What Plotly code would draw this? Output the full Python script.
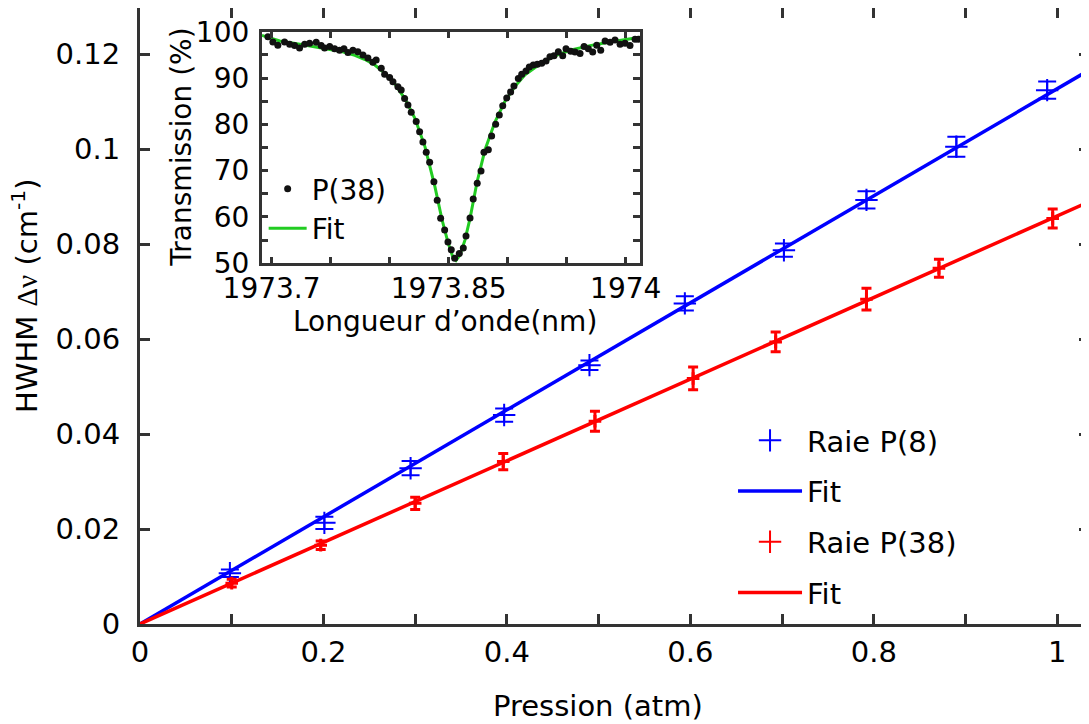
import plotly.graph_objects as go

# ---- Main data: HWHM vs pressure ----
p8_x = [0.098, 0.201, 0.295, 0.397, 0.490, 0.594, 0.702, 0.792, 0.890, 0.989]
p8_y = [0.0107, 0.0213, 0.0328, 0.0440, 0.0545, 0.0675, 0.0787, 0.0893, 0.1005, 0.1124]
p8_err = [0.0008, 0.0013, 0.0015, 0.0014, 0.0010, 0.0015, 0.0014, 0.0018, 0.0021, 0.0018]

p38_x = [0.100, 0.197, 0.300, 0.396, 0.496, 0.603, 0.693, 0.792, 0.871, 0.995]
p38_y = [0.0086, 0.0166, 0.0254, 0.0342, 0.0427, 0.0517, 0.0594, 0.0684, 0.0749, 0.0854]
p38_err = [0.0008, 0.0009, 0.0013, 0.0017, 0.0021, 0.0024, 0.0021, 0.0023, 0.0019, 0.0020]

fit_x = [0.0, 1.0346]
fit_p8 = [0.0, 0.1166]
fit_p38 = [0.0, 0.0889]

x_tickvals = [0.0, 0.1, 0.2, 0.3, 0.4, 0.5, 0.6, 0.7, 0.8, 0.9, 1.0]
x_ticktext = ["0", "", "0.2", "", "0.4", "", "0.6", "", "0.8", "", "1"]
y_tickvals = [0.0, 0.02, 0.04, 0.06, 0.08, 0.10, 0.12]
y_ticktext = ["0", "0.02", "0.04", "0.06", "0.08", "0.1", "0.12"]

# ---- Inset data: transmission spectrum of P(38) ----
wl = [1973.6969, 1973.7011, 1973.7053, 1973.7110, 1973.7153, 1973.7195, 1973.7237,
      1973.7280, 1973.7322, 1973.7378, 1973.7420, 1973.7449, 1973.7492, 1973.7534,
      1973.7576, 1973.7613, 1973.7647, 1973.7689, 1973.7731, 1973.7774, 1973.7816,
      1973.7858, 1973.7886, 1973.7929, 1973.7958, 1973.8000, 1973.8028, 1973.8070,
      1973.8098, 1973.8127, 1973.8155, 1973.8183, 1973.8225, 1973.8254, 1973.8282,
      1973.8310, 1973.8339, 1973.8375, 1973.8403, 1973.8432, 1973.8466, 1973.8494,
      1973.8522, 1973.8551, 1973.8590, 1973.8624, 1973.8647, 1973.8681, 1973.8708,
      1973.8742, 1973.8774, 1973.8799, 1973.8836, 1973.8864, 1973.8898, 1973.8929,
      1973.8958, 1973.8992, 1973.9025, 1973.9053, 1973.9090, 1973.9119, 1973.9155,
      1973.9183, 1973.9217, 1973.9251, 1973.9288, 1973.9325, 1973.9358, 1973.9392,
      1973.9429, 1973.9466, 1973.9494, 1973.9534, 1973.9570, 1973.9613, 1973.9647,
      1973.9683, 1973.9720, 1973.9754, 1973.9788, 1973.9825, 1973.9867, 1973.9909,
      1973.9952, 1973.9994, 1974.0036, 1974.0079, 1974.0107]
trans = [98.9, 97.8, 97.1, 97.8, 97.3, 97.0, 96.5, 97.3, 97.5, 97.7, 97.0, 96.5,
         96.8, 96.3, 96.0, 96.3, 95.5, 96.0, 95.7, 95.0, 94.3, 93.4, 93.9, 92.1,
         90.8, 90.1, 89.2, 88.1, 87.4, 85.6, 84.2, 82.6, 80.6, 78.4, 76.2, 74.0,
         71.8, 67.6, 63.6, 59.7, 57.2, 54.6, 52.9, 51.1, 52.1, 53.3, 55.9, 59.8,
         63.9, 67.3, 69.9, 74.0, 74.5, 77.5, 80.0, 82.0, 84.0, 85.7, 87.0, 88.3,
         89.9, 90.8, 91.5, 92.4, 92.8, 93.0, 93.2, 93.7, 94.6, 94.8, 95.7, 94.8,
         96.3, 95.8, 95.6, 95.3, 96.8, 96.3, 95.6, 97.1, 96.0, 98.0, 97.7, 98.2,
         97.3, 97.5, 97.0, 98.4, 98.4]

fit_wl = [1973.6918, 1973.7070, 1973.7240, 1973.7409, 1973.7579, 1973.7706, 1973.7791,
          1973.7875, 1973.7960, 1973.8045, 1973.8130, 1973.8214, 1973.8299, 1973.8384,
          1973.8443, 1973.8494, 1973.8536, 1973.8562, 1973.8596, 1973.8638, 1973.8681,
          1973.8740, 1973.8808, 1973.8892, 1973.8977, 1973.9062, 1973.9147, 1973.9274,
          1973.9401, 1973.9528, 1973.9697, 1973.9867, 1973.9994, 1974.0121]
fit_trans = [99.2, 98.0, 97.3, 96.6, 95.8, 94.9, 94.0, 92.8, 91.0, 88.7, 85.5, 81.3,
             75.2, 66.5, 59.5, 54.5, 51.3, 50.6, 51.8, 55.0, 59.7, 67.5, 74.5, 80.5,
             85.0, 88.2, 90.7, 93.0, 94.8, 96.0, 97.0, 97.8, 98.3, 98.8]

in_x_tickvals = [1973.70, 1973.75, 1973.80, 1973.85, 1973.90, 1973.95, 1974.00]
in_x_ticktext = ["1973.7", "", "", "1973.85", "", "", "1974"]
in_y_tickvals = [50, 55, 60, 65, 70, 75, 80, 85, 90, 95, 100]
in_y_ticktext = ["50", "", "60", "", "70", "", "80", "", "90", "", "100"]

FONT = "DejaVu Sans, Verdana, sans-serif"
AX = "#333333"
FS = 29
FSI = 28

fig = go.Figure()

fig.add_trace(go.Scatter(
    x=p8_x, y=p8_y, mode="markers", name="Raie P(8)",
    legendgroup="a", legend="legend",
    marker=dict(symbol="cross-thin", size=16, line=dict(color="#0000ff", width=2), color="#0000ff"),
    error_y=dict(type="data", array=p8_err, color="#0000ff", thickness=2, width=9),
))
fig.add_trace(go.Scatter(
    x=fit_x, y=fit_p8, mode="lines", name="Fit", legendgroup="b", legend="legend",
    line=dict(color="#0000ff", width=3.5),
))
fig.add_trace(go.Scatter(
    x=p38_x, y=p38_y, mode="markers", name="Raie P(38)",
    legendgroup="c", legend="legend", showlegend=False,
    marker=dict(symbol="cross-thin", size=9, line=dict(color="#ff0000", width=3), color="#ff0000"),
    error_y=dict(type="data", array=p38_err, color="#ff0000", thickness=3, width=5),
))
# legend entry for the red points (same symbol at legend size)
fig.add_trace(go.Scatter(
    x=[None], y=[None], mode="markers", name="Raie P(38)",
    legendgroup="c", legend="legend",
    marker=dict(symbol="cross-thin", size=16, line=dict(color="#ff0000", width=2), color="#ff0000"),
))
fig.add_trace(go.Scatter(
    x=fit_x, y=fit_p38, mode="lines", name="Fit", legendgroup="d", legend="legend",
    line=dict(color="#ff0000", width=3.5),
))

# inset traces (fit drawn first so points sit on top)
fig.add_trace(go.Scatter(
    x=fit_wl, y=fit_trans, mode="lines", name="Fit", xaxis="x2", yaxis="y2",
    legend="legend2", legendrank=2, line=dict(color="#22cc22", width=3),
))
fig.add_trace(go.Scatter(
    x=wl, y=trans, mode="markers", name="P(38)", xaxis="x2", yaxis="y2",
    legend="legend2", legendrank=1,
    marker=dict(symbol="circle", size=7, color="#111111"),
))

axis_common = dict(showgrid=False, zeroline=False, showline=True, linecolor=AX,
                   mirror="ticks", ticks="inside", tickcolor=AX, automargin=False)

# page has an 8px body margin: figure is sized/offset to fill the 1089x724 window
fig.update_layout(
    width=1081, height=716,
    margin=dict(l=132, r=0, t=0, b=100, autoexpand=False),
    paper_bgcolor="white", plot_bgcolor="white",
    font=dict(family=FONT, size=FS, color="#000000"),
    xaxis=dict(range=[0, 1.0346], tickmode="array", tickvals=x_tickvals, ticktext=x_ticktext,
               ticklen=10, tickwidth=3, linewidth=3, ticklabelstandoff=0,
               tickfont=dict(family=FONT, size=FS, color="#000000"), **axis_common),
    yaxis=dict(range=[0, 0.1297], tickmode="array", tickvals=y_tickvals, ticktext=y_ticktext,
               ticklen=10, tickwidth=3, linewidth=3, ticklabelstandoff=11,
               tickfont=dict(family=FONT, size=FS, color="#000000"), **axis_common),
    xaxis2=dict(domain=[0.1282, 0.5269], anchor="y2", range=[1973.6916, 1974.0121],
                tickmode="array", tickvals=in_x_tickvals, ticktext=in_x_ticktext,
                ticklen=7, tickwidth=2.5, linewidth=2.5, ticklabelstandoff=-2,
                tickfont=dict(family=FONT, size=FSI, color="#000000"), **axis_common),
    yaxis2=dict(domain=[0.5856, 0.9615], anchor="x2", range=[50, 100],
                tickmode="array", tickvals=in_y_tickvals, ticktext=in_y_ticktext,
                ticklen=7, tickwidth=2.5, linewidth=2.5, ticklabelstandoff=4,
                tickfont=dict(family=FONT, size=FSI, color="#000000"), **axis_common),
    legend=dict(x=0.6249, y=0.3393, xanchor="left", yanchor="top",
                bgcolor="rgba(0,0,0,0)", borderwidth=0, itemwidth=64,
                traceorder="grouped", tracegroupgap=10,
                font=dict(family=FONT, size=FS, color="#000000")),
    legend2=dict(x=0.1303, y=0.7467, xanchor="left", yanchor="top",
                 bgcolor="rgba(0,0,0,0)", borderwidth=0, itemwidth=38,
                 font=dict(family=FONT, size=FSI, color="#000000")),
    annotations=[
        dict(text="HWHM <span style='font-family:Liberation Serif'>Δν</span> (cm<sup>-1</sup>)",
             xref="paper", yref="paper", x=-0.1212, y=0.5339,
             xanchor="center", yanchor="middle", textangle=-90, showarrow=False,
             font=dict(family=FONT, size=29, color="#000000")),
        dict(text="Pression (atm)", xref="paper", yref="paper", x=0.4826, y=-0.1331,
             xanchor="center", yanchor="middle", showarrow=False,
             font=dict(family=FONT, size=FS, color="#000000")),
        dict(text="Longueur d’onde(nm)", xref="paper", yref="paper", x=0.3214, y=0.4903,
             xanchor="center", yanchor="middle", showarrow=False,
             font=dict(family=FONT, size=FSI, color="#000000")),
        dict(text="Transmission (%)", xref="paper", yref="paper", x=0.0439, y=0.7744,
             xanchor="center", yanchor="middle", textangle=-90, showarrow=False,
             font=dict(family=FONT, size=FSI, color="#000000")),
    ],
)

fig.write_html("out.html")
